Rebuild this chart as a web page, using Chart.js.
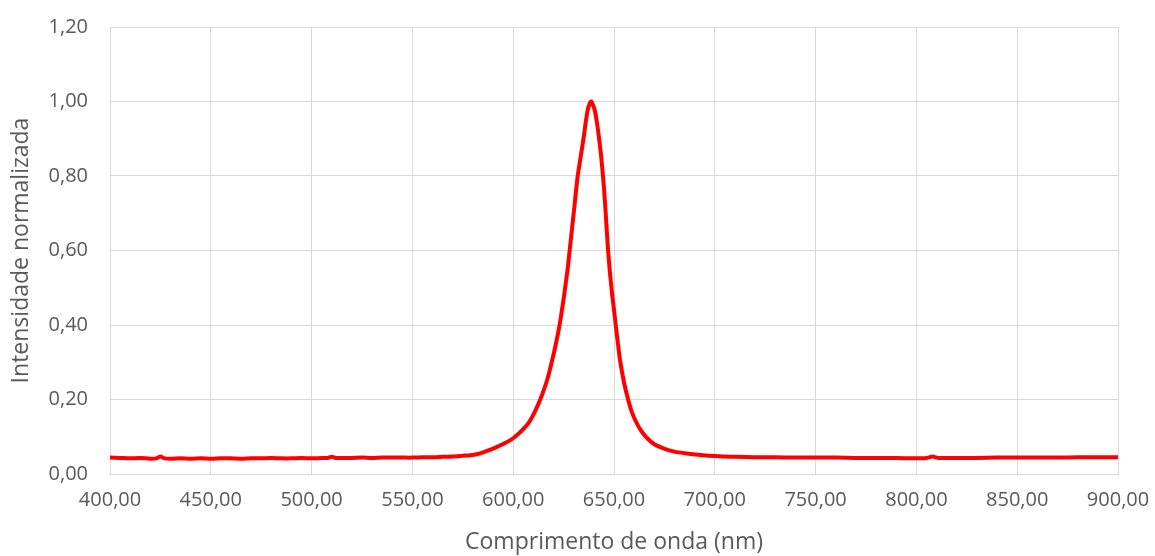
<!DOCTYPE html>
<html>
<head>
<meta charset="utf-8">
<script src="https://cdn.jsdelivr.net/npm/chart.js@4.4.0/dist/chart.umd.min.js"></script>
<style>
  html, body { margin: 0; padding: 0; background: #fff; }
  #wrap { width: 1155px; height: 556px; }
</style>
</head>
<body>
<div id="wrap"><canvas id="mycanvas" width="1155" height="556"></canvas></div>
<script>
// comprimento de onda (nm)
var wavelength = [
  400, 405, 410, 415, 420, 423, 425, 427, 430, 435, 440, 445, 450, 455, 460, 465, 470, 475,
  480, 485, 490, 495, 500, 505, 508, 510, 512, 515, 520, 525, 530, 535, 540, 545, 550, 555,
  560, 565, 570, 575, 580, 584, 588, 592, 596, 600, 604, 608, 611, 614, 617, 619, 621, 623,
  625, 627, 628, 630, 632, 634, 635, 636, 637, 638, 638.7, 639.5, 640.5, 641.5, 642.5, 643.5,
  645, 646, 647, 648, 649, 650, 651, 652, 653, 655, 657, 659, 661.5, 664, 666.5, 670, 674.5,
  680, 686, 693, 700, 705, 710, 720, 730, 740, 750, 760, 770, 780, 790, 800, 805, 808, 811,
  815, 820, 830, 840, 850, 860, 870, 880, 890, 895, 900
];
// intensidade normalizada
var intensity = [
  0.044, 0.043, 0.042, 0.043, 0.041, 0.042, 0.047, 0.042, 0.041, 0.042, 0.041, 0.042, 0.041, 0.042, 0.042, 0.041, 0.042, 0.042,
  0.043, 0.042, 0.042, 0.043, 0.042, 0.043, 0.043, 0.046, 0.043, 0.043, 0.043, 0.044, 0.043, 0.044, 0.044, 0.044, 0.044, 0.045,
  0.045, 0.046, 0.047, 0.049, 0.051, 0.056, 0.064, 0.073, 0.083, 0.096, 0.115, 0.140, 0.170, 0.208, 0.255, 0.298, 0.345, 0.400,
  0.470, 0.550, 0.600, 0.700, 0.800, 0.870, 0.905, 0.945, 0.978, 0.995, 1.000, 0.992, 0.975, 0.945, 0.905, 0.860,
  0.770, 0.690, 0.605, 0.540, 0.486, 0.440, 0.393, 0.348, 0.305, 0.245, 0.200, 0.164, 0.134, 0.112, 0.096, 0.080, 0.069,
  0.060, 0.055, 0.051, 0.048, 0.047, 0.046, 0.045, 0.045, 0.044, 0.044, 0.044, 0.043, 0.043, 0.043, 0.042, 0.043, 0.047, 0.043,
  0.043, 0.043, 0.043, 0.044, 0.044, 0.044, 0.044, 0.045, 0.045, 0.045, 0.045
];

var xTicks = [400, 450, 500, 550, 600, 650, 700, 750, 800, 850, 900];
var yTicks = [0, 0.2, 0.4, 0.6, 0.8, 1.0, 1.2];

var points = [];
for (var i in wavelength) {
  points.push({ x: wavelength[i], y: intensity[i] });
}

function virgula(v) {
  return Number(v).toFixed(2).replace('.', ',');
}

var gridColor = '#d9d9d9';
var textColor = '#595959';
var fontFamily = "'Open Sans', 'Noto Sans', sans-serif";

var ctx = document.getElementById('mycanvas');
var chart = new Chart(ctx, {
  type: 'line',
  data: {
    datasets: [{
      data: points,
      borderColor: '#ff0000',
      backgroundColor: '#ff0000',
      borderWidth: 4,
      pointRadius: 0,
      tension: 0.2,
      fill: false
    }]
  },
  options: {
    responsive: false,
    animation: false,
    layout: { padding: { left: 0, top: 27, right: 37, bottom: 0 } },
    plugins: { legend: { display: false }, tooltip: { enabled: false } },
    scales: {
      x: {
        type: 'linear',
        min: 400,
        max: 900,
        afterBuildTicks: function(scale) {
          scale.ticks = xTicks.map(function(v) { return { value: v }; });
        },
        afterFit: function(scale) {
          scale.height = 82;
          scale.paddingLeft = 0;
          scale.paddingRight = 0;
        },
        grid: { color: gridColor, lineWidth: 1, drawTicks: false },
        border: { color: gridColor, width: 1 },
        ticks: {
          color: textColor,
          font: { family: fontFamily, size: 20 },
          padding: 14,
          maxRotation: 0,
          callback: function(v) { return virgula(v); }
        },
        title: {
          display: true,
          text: 'Comprimento de onda (nm)',
          color: textColor,
          font: { family: fontFamily, size: 23 },
          padding: { top: 4, bottom: 0 }
        }
      },
      y: {
        min: 0,
        max: 1.2,
        afterBuildTicks: function(scale) {
          scale.ticks = yTicks.map(function(v) { return { value: v }; });
        },
        afterFit: function(scale) {
          scale.width = 110;
          scale.paddingTop = 0;
          scale.paddingBottom = 0;
        },
        grid: { color: gridColor, lineWidth: 1, drawTicks: false },
        border: { color: gridColor, width: 1 },
        ticks: {
          color: textColor,
          font: { family: fontFamily, size: 20 },
          padding: 22,
          callback: function(v) { return virgula(v); }
        },
        title: {
          display: true,
          text: 'Intensidade normalizada',
          color: textColor,
          font: { family: fontFamily, size: 23 },
          padding: { top: 8, bottom: 0 }
        }
      }
    }
  }
});
</script>
</body>
</html>
